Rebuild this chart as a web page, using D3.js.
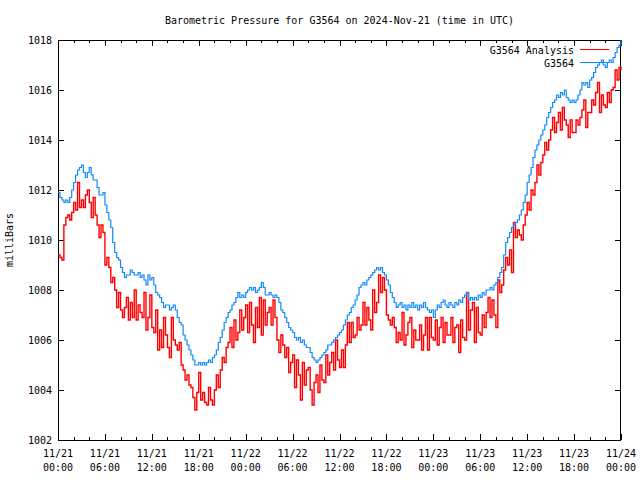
<!DOCTYPE html>
<html>
<head>
<meta charset="utf-8">
<script src="https://cdn.jsdelivr.net/npm/d3@7"></script>
<style>
  html, body { margin: 0; padding: 0; background: #fff; }
  svg { display: block; }
  text { font-family: "DejaVu Sans Mono", "Liberation Mono", monospace; font-size: 10px; fill: #000; }
</style>
</head>
<body>
<svg id="chart" width="640" height="480"></svg>
<script>
// ---- data ----
const titleText = "Barometric Pressure for G3564 on 2024-Nov-21 (time in UTC)";
const yLabel = "milliBars";
const seriesNames = ["G3564 Analysis", "G3564"];
const startISO = "2024-11-21T00:00:00Z";
const endISO = "2024-11-24T00:00:00Z";
const yTicks = [1002, 1004, 1006, 1008, 1010, 1012, 1014, 1016, 1018];

// G3564 Analysis, every 15 minutes from 11/21 00:00 UTC (one group per hour)
const analysisStepMinutes = 15;
const analysisValues = [
  1009.4, 1009.3, 1009.2, 1010.6,  1010.9, 1011.0, 1010.8, 1011.1,  1011.5, 1011.2, 1012.3, 1011.3,
  1011.6, 1011.3, 1011.8, 1012.0,  1011.5, 1010.9, 1011.7, 1011.0,  1010.6, 1010.1, 1010.6, 1010.3,
  1009.0, 1009.3, 1008.9, 1008.3,  1008.5, 1008.0, 1007.3, 1007.9,  1007.2, 1006.9, 1007.3, 1007.7,
  1006.8, 1007.5, 1006.9, 1008.0,  1006.8, 1007.4, 1007.1, 1006.9,  1007.9, 1006.4, 1006.9, 1007.8,
  1006.5, 1006.3, 1007.2, 1005.6,  1006.4, 1005.7, 1006.9, 1006.2,  1005.7, 1005.3, 1006.9, 1006.0,
  1005.8, 1005.6, 1005.9, 1005.0,  1004.8, 1004.4, 1004.6, 1004.2,  1004.1, 1003.7, 1003.2, 1003.9,
  1004.7, 1003.6, 1003.9, 1003.5,  1003.4, 1004.1, 1003.6, 1003.4,  1004.0, 1004.6, 1004.1, 1004.8,
  1005.3, 1005.1, 1005.7, 1005.9,  1006.5, 1005.7, 1006.8, 1006.0,  1006.3, 1007.2, 1006.4, 1006.9,
  1007.4, 1006.3, 1007.5, 1006.6,  1005.9, 1007.3, 1006.5, 1007.7,  1006.2, 1007.6, 1006.6, 1007.1,
  1007.3, 1006.6, 1007.6, 1006.9,  1006.0, 1005.5, 1006.2, 1005.8,  1005.3, 1005.7, 1004.7, 1005.1,
  1005.4, 1004.1, 1005.2, 1004.6,  1003.6, 1005.1, 1004.2, 1004.8,  1004.9, 1004.0, 1003.4, 1004.3,
  1004.6, 1003.9, 1005.0, 1004.4,  1004.3, 1005.4, 1004.6, 1005.1,  1005.5, 1004.8, 1006.0, 1005.2,
  1004.9, 1005.6, 1004.9, 1005.8,  1006.7, 1005.9, 1006.7, 1006.1,  1006.2, 1006.9, 1006.4, 1006.6,
  1007.5, 1006.6, 1007.3, 1006.8,  1006.4, 1008.0, 1007.1, 1007.5,  1008.6, 1007.9, 1008.5, 1008.0,
  1007.0, 1006.8, 1006.6, 1006.9,  1006.5, 1005.9, 1006.3, 1006.0,  1007.1, 1005.8, 1006.2, 1006.7,
  1006.9, 1005.7, 1006.4, 1006.0,  1006.0, 1006.6, 1005.6, 1006.2,  1006.9, 1005.6, 1006.9, 1006.1,
  1006.0, 1006.8, 1005.8, 1006.5,  1006.9, 1005.9, 1006.7, 1006.2,  1006.2, 1006.9, 1005.9, 1006.5,
  1006.6, 1005.5, 1006.8, 1006.1,  1006.0, 1007.9, 1006.4, 1007.2,  1007.5, 1005.9, 1007.3, 1006.3,
  1006.2, 1007.0, 1006.5, 1007.1,  1007.7, 1006.9, 1007.6, 1007.0,  1006.5, 1008.4, 1007.9, 1008.2,
  1008.8, 1009.3, 1009.0, 1009.6,  1008.7, 1010.7, 1010.1, 1010.4,  1010.2, 1010.0, 1010.6, 1011.0,
  1011.5, 1011.2, 1012.0, 1011.8,  1012.3, 1013.0, 1012.6, 1013.1,  1013.4, 1013.9, 1013.6, 1014.0,
  1014.4, 1014.9, 1014.3, 1014.7,  1015.1, 1014.4, 1015.3, 1014.8,  1014.6, 1014.1, 1014.8, 1014.3,
  1014.3, 1014.8, 1014.6, 1014.9,  1015.2, 1015.6, 1014.5, 1015.1,  1015.1, 1015.6, 1015.4, 1015.9,
  1016.3, 1015.1, 1015.8, 1015.4,  1015.3, 1015.9, 1015.5, 1016.0,  1016.1, 1016.8, 1016.4, 1016.9,
  1016.8
];

// G3564 observed, every 15 minutes from 11/21 00:00 UTC (one group per hour)
const stationStepMinutes = 15;
const stationValues = [
  1011.9, 1011.7, 1011.6, 1011.5,  1011.6, 1011.5, 1011.7, 1012.0,  1012.3, 1012.6, 1012.8, 1012.9,
  1013.0, 1012.7, 1012.5, 1012.7,  1012.9, 1012.6, 1012.4, 1012.4,  1012.1, 1011.8, 1011.8, 1011.9,
  1011.4, 1011.1, 1010.8, 1010.5,  1009.9, 1009.5, 1009.3, 1009.2,  1008.9, 1008.7, 1008.5, 1008.6,
  1008.6, 1008.8, 1008.7, 1008.6,  1008.6, 1008.7, 1008.5, 1008.6,  1008.4, 1008.2, 1008.6, 1008.4,
  1008.5, 1008.2, 1007.9, 1007.8,  1007.7, 1007.5, 1007.3, 1007.4,  1007.4, 1007.2, 1007.3, 1007.4,
  1007.2, 1006.9, 1006.7, 1006.6,  1006.2, 1006.0, 1005.8, 1005.6,  1005.4, 1005.2, 1005.0, 1005.0,
  1005.1, 1005.0, 1005.1, 1005.0,  1005.1, 1005.2, 1005.1, 1005.3,  1005.4, 1005.6, 1005.9, 1006.1,
  1006.4, 1006.7, 1006.9, 1007.1,  1007.2, 1007.4, 1007.5, 1007.7,  1007.9, 1007.7, 1007.8, 1007.7,
  1007.9, 1008.0, 1008.1, 1008.0,  1008.1, 1007.9, 1008.0, 1008.1,  1008.3, 1008.1, 1007.8, 1007.8,
  1007.9, 1007.8, 1007.7, 1007.8,  1007.7, 1007.5, 1007.2, 1007.1,  1006.9, 1006.7, 1006.5, 1006.4,
  1006.3, 1006.1, 1006.0, 1006.1,  1005.9, 1006.0, 1005.8, 1005.7,  1005.7, 1005.5, 1005.3, 1005.2,
  1005.1, 1005.2, 1005.3, 1005.4,  1005.5, 1005.6, 1005.8, 1005.8,  1005.9, 1006.0, 1006.1, 1006.2,
  1006.3, 1006.4, 1006.6, 1006.8,  1007.0, 1007.1, 1007.3, 1007.4,  1007.6, 1007.8, 1008.1, 1008.2,
  1008.3, 1008.2, 1008.4, 1008.5,  1008.6, 1008.7, 1008.8, 1008.9,  1008.8, 1008.9, 1008.7, 1008.6,
  1008.4, 1008.2, 1007.9, 1007.7,  1007.5, 1007.3, 1007.4, 1007.5,  1007.3, 1007.4, 1007.2, 1007.4,
  1007.3, 1007.5, 1007.3, 1007.4,  1007.2, 1007.4, 1007.3, 1007.5,  1007.3, 1007.2, 1007.1, 1007.2,
  1006.9, 1007.2, 1007.4, 1007.3,  1007.5, 1007.6, 1007.4, 1007.3,  1007.5, 1007.4, 1007.3, 1007.5,
  1007.4, 1007.6, 1007.5, 1007.7,  1007.8, 1007.9, 1007.6, 1007.7,  1007.6, 1007.7, 1007.6, 1007.8,
  1007.7, 1007.9, 1007.8, 1008.0,  1008.0, 1008.1, 1008.0, 1008.2,  1008.3, 1008.5, 1008.7, 1008.9,
  1009.4, 1009.9, 1010.1, 1010.3,  1010.5, 1010.6, 1010.7, 1010.8,  1011.0, 1011.2, 1011.5, 1011.8,
  1012.3, 1012.6, 1012.9, 1013.3,  1013.6, 1013.8, 1014.0, 1014.2,  1014.4, 1014.6, 1014.9, 1015.1,
  1015.3, 1015.5, 1015.6, 1015.8,  1015.7, 1015.9, 1015.8, 1016.0,  1015.7, 1015.6, 1015.5, 1015.6,
  1015.5, 1015.6, 1015.8, 1016.0,  1016.3, 1016.2, 1016.3, 1016.1,  1016.4, 1016.5, 1016.7, 1016.9,
  1017.0, 1017.1, 1017.2, 1017.0,  1016.9, 1017.1, 1017.2, 1017.1,  1017.3, 1017.5, 1017.7, 1017.8,
  1018.0
];

const colors = ["#ff0000", "#1188ff"];
const widths = [1.4, 1.2];

// ---- chart ----
const svg = d3.select("#chart");
const L = 58, R = 621, T = 40, B = 440;

const t0 = new Date(startISO), t1 = new Date(endISO);
const x = d3.scaleUtc().domain([t0, t1]).range([L, R]);
const y = d3.scaleLinear().domain([1002, 1018]).range([B, T]);

const toPoints = (vals, stepMin) => vals.map((v, i) => ({ t: new Date(t0.getTime() + i * stepMin * 60000), v }));
const seriesData = [toPoints(analysisValues, analysisStepMinutes), toPoints(stationValues, stationStepMinutes)];

// title
svg.append("text").attr("x", (L + R) / 2).attr("y", 24).attr("text-anchor", "middle").text(titleText);

// y label
svg.append("text").attr("transform", "translate(13,240) rotate(-90)").attr("text-anchor", "middle").text(yLabel);

// frame
svg.append("rect").attr("x", L + 0.5).attr("y", T + 0.5).attr("width", R - L - 1).attr("height", B - T)
  .attr("fill", "none").attr("stroke", "#000").attr("stroke-width", 1);

const g = svg.append("g");
const major = x.ticks(d3.utcHour.every(6));
const minor = x.ticks(d3.utcHour.every(2)).filter(d => d.getUTCHours() % 6 !== 0);

function vtick(xp, len) {
  const xx = Math.round(xp) + 0.5;
  g.append("line").attr("x1", xx).attr("x2", xx).attr("y1", B).attr("y2", B - len).attr("stroke", "#000");
  g.append("line").attr("x1", xx).attr("x2", xx).attr("y1", T).attr("y2", T + len).attr("stroke", "#000");
}
major.forEach(d => vtick(x(d), 6));
minor.forEach(d => vtick(x(d), 3));

const fmtDate = d3.utcFormat("%m/%d"), fmtTime = d3.utcFormat("%H:%M");
major.forEach(d => {
  const t = g.append("text").attr("x", x(d)).attr("text-anchor", "middle");
  t.append("tspan").attr("x", x(d)).attr("y", 457).text(fmtDate(d));
  t.append("tspan").attr("x", x(d)).attr("y", 471).text(fmtTime(d));
});

yTicks.forEach(v => {
  const yy = Math.round(y(v)) + 0.5;
  g.append("line").attr("x1", L).attr("x2", L + 6).attr("y1", yy).attr("y2", yy).attr("stroke", "#000");
  g.append("line").attr("x1", R - 6).attr("x2", R).attr("y1", yy).attr("y2", yy).attr("stroke", "#000");
  g.append("text").attr("x", 52).attr("y", y(v) + 3.5).attr("text-anchor", "end").text(d3.format("d")(v));
});

// lines
const line = d3.line().x(d => x(d.t)).y(d => y(d.v)).curve(d3.curveStepAfter);
seriesData.forEach((data, i) => {
  svg.append("path").datum(data).attr("d", line).attr("fill", "none")
    .attr("stroke", colors[i]).attr("stroke-width", widths[i]);
});

// legend
seriesNames.forEach((name, i) => {
  const yy = 50 + i * 13;
  svg.append("text").attr("x", 574).attr("y", yy + 3.5).attr("text-anchor", "end").text(name);
  svg.append("line").attr("x1", 580).attr("x2", 609).attr("y1", yy - 0.5).attr("y2", yy - 0.5)
    .attr("stroke", colors[i]).attr("stroke-width", 1);
});
</script>
</body>
</html>
